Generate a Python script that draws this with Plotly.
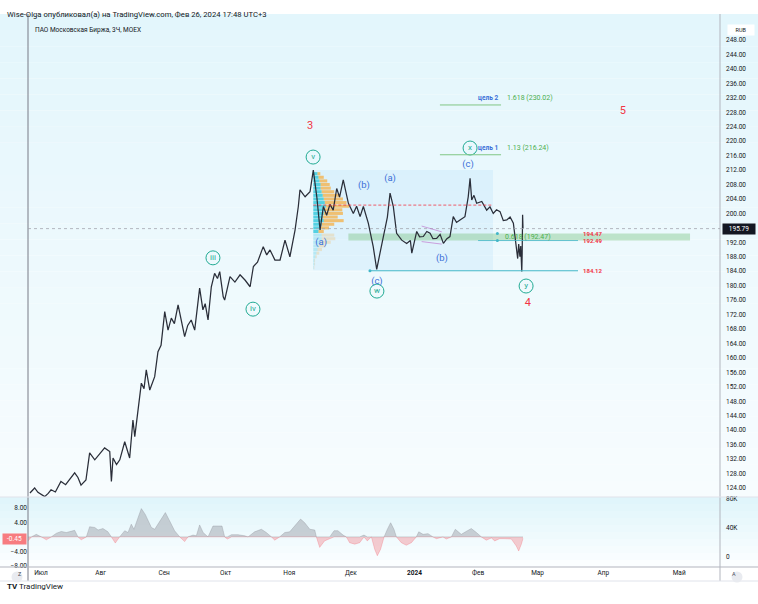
import plotly.graph_objects as go
import numpy as np

FONT = "Roboto"
W, H = 758, 604
ML, MR, MT, MB = 28, 38, 14, 37
PW, PH = W - ML - MR, H - MT - MB

def px(xp):  # pixel -> paper x (decor only)
    return (xp - ML) / PW

def py(yp):  # pixel -> paper y (decor only)
    return (H - MB - yp) / PH

# ---------------- DATA ----------------
# x = days since 2023-07-03 (first bar of July)
month_tick_day = [0, 29, 60, 90, 121, 151, 182, 213, 242, 274, 311]
month_tick_txt = ["Июл", "Авг", "Сен", "Окт", "Ноя", "Дек", "<b>2024</b>", "Фев", "Мар", "Апр", "Май"]

price_day = [-5.4, -3.1, -1.5, 1.8, 3.5, 4.9, 7.0, 9.7, 12, 14, 16.4, 18, 19.5, 21.9, 23.7, 26.2, 28.5, 31.0,
             33.5, 34.3, 35.1, 36.8, 38.4, 40.8, 43.2, 44.8, 45.7, 47.3, 48.9, 50.2, 51.3, 53.0, 55.4, 57.0,
             58.5, 60.3, 61.9, 63.5, 65.0, 66.8, 68.5, 70.0, 71.5, 73.2, 74.9, 77.3, 78.9, 80.0, 81.4, 83.0,
             84.6, 86.0, 87.1, 88.8, 89.5, 91.1, 92.1, 94.5, 97.0, 99.5, 101.9, 103.5, 105.5, 108.3, 110.0,
             111.6, 114.0, 116.5, 118.9, 121.3, 123.8, 125.4, 126.2, 128.7, 131.1, 132.7, 134.4, 136.0, 137.6,
             139.2, 140.8, 142.4, 144.1, 145.5, 147.3, 149.8, 152.2, 153.8, 155.5, 157.1, 159.5, 161.9, 163.6,
             165.2, 167.6, 168.8, 170.1, 171.7, 173.3, 175.8, 178.2, 180.0, 180.7, 181.4, 183.1, 184.5, 186.3,
             188.0, 189.6, 191.0, 192.8, 194.5, 196.1, 197.8, 199.3, 200.9, 202.5, 204.2, 206.6, 208.2, 209.1,
             209.9, 211.0, 212.3, 214.8, 217.2, 218.8, 220.4, 222.0, 223.7, 225.3, 227.0, 228.6, 230.2, 231.8,
             232.3, 232.8, 233.4, 233.8, 234.3, 234.5, 234.7, 234.9]
price_close = [122.6, 124.0, 122.8, 121.6, 122.5, 123.5, 122.9, 125.8, 124.9, 126.5, 128.2, 126.9, 124.8, 126.2,
               133.7, 131.8, 133.5, 135.1, 134.1, 125.8, 132.3, 130.5, 131.8, 136.8, 132.3, 142.8, 138.2, 145.6,
               153.0, 151.5, 156.7, 151.1, 154.8, 161.7, 163.5, 172.8, 167.7, 171.0, 169.5, 174.7, 170.0, 165.9,
               169.0, 170.5, 167.7, 179.3, 173.3, 175.0, 170.5, 179.7, 183.4, 182.0, 183.9, 176.9, 176.0, 180.2,
               182.5, 181.0, 183.0, 181.5, 179.7, 185.3, 186.5, 190.8, 188.5, 189.9, 187.1, 187.1, 192.6, 188.0,
               195.4, 201.9, 206.5, 204.6, 206.0, 212.0, 204.6, 195.4, 201.9, 199.5, 202.5, 200.9, 206.9, 204.5,
               209.3, 202.8, 200.0, 202.0, 199.1, 201.9, 197.3, 190.8, 184.5, 189.0, 196.3, 199.0, 205.6, 201.9,
               194.5, 192.6, 191.7, 192.5, 189.0, 190.8, 195.0, 193.5, 193.6, 195.0, 194.5, 193.0, 193.1, 194.2,
               191.7, 193.0, 193.6, 199.1, 197.5, 198.2, 199.1, 204.6, 209.7, 203.7, 205.0, 202.8, 203.3, 200.9,
               201.8, 200.0, 201.0, 200.5, 198.0, 198.2, 199.0, 197.3, 190.8, 187.5, 191.5, 188.0, 191.0, 183.9,
               189.0, 199.6, 195.79]
last_price = 195.79

osc_day = [-6.3, -4.7, -2.3, 0.2, 2.6, 5.0, 7.5, 9.9, 12.3, 14.0, 16.4, 18.0, 19.6, 22.1, 23.7, 26.2, 27.8, 30.2,
           32.6, 34.3, 36.2, 38.3, 40.8, 42.4, 44.0, 45.3, 47.3, 48.9, 50.8, 52.1, 53.8, 55.4, 57.8, 60.6, 62.7,
           65.1, 67.6, 70.0, 71.6, 74.1, 75.7, 77.3, 79.0, 81.4, 83.8, 86.3, 88.2, 89.5, 90.8, 92.8, 96.0, 99.3,
           100.9, 104.1, 107.4, 109.8, 112.3, 113.9, 116.3, 118.8, 121.2, 123.6, 126.5, 128.5, 131.0, 133.4, 134.2,
           135.8, 138.2, 140.7, 142.8, 144.7, 147.2, 148.8, 150.4, 152.9, 155.3, 157.4, 159.0, 161.0, 162.6, 163.9,
           165.5, 167.2, 168.8, 170.4, 172.0, 173.2, 175.6, 178.0, 180.5, 182.9, 184.1, 186.2, 188.6, 191.0, 192.7,
           195.9, 197.5, 200.0, 201.9, 204.8, 207.8, 209.7, 212.2, 214.6, 217.0, 219.5, 221.1, 223.5, 226.0, 229.2,
           231.6, 232.8, 234.1, 234.9]
osc_val = [-1.1, 0, 0.7, 0, -0.8, 0, 1.0, 1.5, 1.2, 1.4, 1.8, 0, -0.8, 0, 2.8, 2.6, 1.9, 2.3, 1.4, 0, -1.7, 0,
           1.7, 1.2, 3.5, 2.1, 5.3, 7.8, 6.2, 4.4, 2.6, 2.1, 4.4, 6.7, 4.4, 1.7, 0, -1.3, 0, 0.5, 0.3, 3.3, 1.2,
           0, 3.0, 3.0, 3.0, 0, -0.6, 0.6, 0.6, 0.3, 0, 1.4, 2.1, 1.2, 0, -0.9, 0, 1.2, 1.4, 3.0, 4.9, 3.9, 2.1,
           1.9, 0, -2.9, -1.1, -0.5, 1.7, 1.7, 0.5, 0, -1.6, -2.0, -1.6, 0.5, -1.1, 0, -3.4, -5.2, -3.4, 0, 2.1,
           3.9, 2.1, 0, -1.6, -2.3, -1.6, 0, 1.4, 0.7, 0.9, 0, -0.5, 0, -0.6, 0, 2.1, 0.7, 1.7, 2.3, 1.2, 0, -0.9,
           -0.3, -1.1, -0.5, -0.5, -0.6, -2.5, -3.9, -2.0, -0.45]
osc_last = -0.45

# volume profile (fixed range, Nov 14 -> Feb 1), rows of 1 RUB
vp_start_day, vp_end_day = 132.7, 220.3
vp_low, vp_high = 184.3, 212.0
vp_poc = 202.3
vp_price = [211, 210, 209, 208, 207, 206, 205, 204, 203, 202, 201, 200, 199, 198, 197, 196, 195, 194, 193,
            192, 191, 190, 189, 188, 187, 186, 185]
vp_up = [4, 5, 6, 7, 7, 8, 9, 10, 11, 12, 11, 10, 9, 10, 8, 7, 5, 8, 8, 7, 5, 4, 3, 2, 1, 1, 0.5]
vp_total = [6.7, 10, 13.3, 15.7, 16.7, 20, 25, 28.3, 31.7, 34.3, 27.7, 28.3, 23.3, 29, 20, 15, 10, 20, 21,
            16.7, 11.7, 8.3, 5.7, 3.3, 1.7, 1.7, 1]
vp_va_low = 194.5

# wave labels
circ_txt = ["v", "iii", "iv", "w", "x", "y"]
circ_day = [132.6, 83.8, 103.3, 163.7, 209.1, 236.4]
circ_price = [215.6, 187.7, 173.5, 178.5, 218.1, 179.9]
red_txt = ["3", "5", "4"]
red_day = [131.1, 283.6, 237.3]
red_price = [224.2, 228.3, 175.2]
blue_txt = ["(b)", "(a)", "(c)", "(a)", "(b)", "(c)"]
blue_day = [157.4, 170.1, 208.1, 136.5, 195.4, 163.7]
blue_price = [207.6, 209.5, 213.4, 191.8, 187.4, 181.0]

# fib extension targets
fib_names = ["цель 2", "цель 1"]
fib_ratio = ["1.618", "1.13"]
fib_level = [230.02, 216.24]
fib_day = [194.4, 224.2]
# retracement zone
zone_lo, zone_hi = 192.49, 194.47
zone_day = [149.8, 316.3]
zone_label = "0.618 (192.47)"
zone_label_day = 225.1
# support
support = 184.12
support_day = [160.3, 261.7]
lvl192_day = [213.0, 261.7]
label_day = 263.2
# triangle (b)
tri_day = [185.5, 195.3]
tri_up = [196.5, 194.9]
tri_dn = [192.2, 191.5]

# ---------------- FIGURE ----------------
RED = "#f23645"
TEAL = "#22ab94"
BLUE = "#3a6fd8"
GREEN = "#4caf50"
CYAN = "#42b6c8"
TXT = "#131722"

fig = go.Figure()

shapes = []
# background gradients
def grad(y0p, y1p, c0, c1, n):
    for i in range(n):
        t = i / (n - 1)
        c = tuple(int(round(c0[k] + (c1[k] - c0[k]) * t)) for k in range(3))
        a = y0p + (y1p - y0p) * i / n
        b = y0p + (y1p - y0p) * (i + 1) / n
        shapes.append(dict(type="rect", xref="paper", yref="paper", x0=px(0), x1=px(W), y0=py(a), y1=py(b),
                           fillcolor="rgb(%d,%d,%d)" % c, line_width=0, layer="below"))

grad(14, 497, (227, 246, 252), (247, 252, 254), 30)
grad(497, 567, (224, 245, 251), (251, 254, 255), 10)

# borders
shapes += [
    dict(type="line", xref="paper", yref="paper", x0=0, x1=0, y0=py(14), y1=py(581), line=dict(color="#787b86", width=1)),
    dict(type="line", xref="paper", yref="paper", x0=1, x1=1, y0=py(14), y1=py(581), line=dict(color="#b2b5be", width=1)),
    dict(type="line", xref="paper", yref="paper", x0=px(0), x1=px(W), y0=0, y1=0, line=dict(color="#b2b5be", width=1)),
    dict(type="line", xref="paper", yref="paper", x0=px(0), x1=px(W), y0=py(497), y1=py(497), line=dict(color="#e0e3eb", width=1)),
    dict(type="line", xref="paper", yref="paper", x0=px(0), x1=px(W), y0=py(581), y1=py(581), line=dict(color="#e0e3eb", width=1)),
]

# volume profile box
shapes.append(dict(type="rect", xref="x", yref="y", x0=vp_start_day, x1=vp_end_day, y0=vp_low, y1=vp_high,
                   fillcolor="rgba(33,150,243,0.07)", line_width=0, layer="below"))
# green retracement zone
shapes.append(dict(type="rect", xref="x", yref="y", x0=zone_day[0], x1=zone_day[1], y0=zone_lo, y1=zone_hi,
                   fillcolor="rgba(102,187,106,0.35)", line_width=0, layer="below"))
# last price dotted line
shapes.append(dict(type="line", xref="paper", yref="y", x0=0, x1=1, y0=last_price, y1=last_price,
                   line=dict(color="#a3a6af", width=0.8, dash="dot")))
# POC dashed
shapes.append(dict(type="line", xref="x", yref="y", x0=vp_start_day, x1=vp_end_day, y0=vp_poc, y1=vp_poc,
                   line=dict(color=RED, width=0.8, dash="3px,2px")))
# support
shapes.append(dict(type="line", xref="x", yref="y", x0=support_day[0], x1=support_day[1], y0=support, y1=support,
                   line=dict(color=CYAN, width=1)))
shapes.append(dict(type="line", xref="x", yref="y", x0=lvl192_day[0], x1=lvl192_day[1], y0=zone_lo, y1=zone_lo,
                   line=dict(color=CYAN, width=0.8)))
# fib target lines
for lv in fib_level:
    shapes.append(dict(type="line", xref="x", yref="y", x0=fib_day[0], x1=fib_day[1], y0=lv, y1=lv,
                       line=dict(color="#81c784", width=1)))
# triangle
shapes.append(dict(type="line", xref="x", yref="y", x0=tri_day[0], x1=tri_day[1], y0=tri_up[0], y1=tri_up[1],
                   line=dict(color="rgba(186,104,200,0.6)", width=1)))
shapes.append(dict(type="line", xref="x", yref="y", x0=tri_day[0], x1=tri_day[1], y0=tri_dn[0], y1=tri_dn[1],
                   line=dict(color="rgba(186,104,200,0.6)", width=1)))
# Z / A circles
for cx in (17, 737):
    shapes.append(dict(type="circle", xref="paper", yref="paper", x0=px(cx - 5.5), x1=px(cx + 5.5),
                       y0=py(577 + 5.5), y1=py(577 - 5.5), fillcolor="#e9ebf0", line_width=0))

# volume profile bars
vp_up_a = np.array(vp_up, dtype=float)
vp_tot_a = np.array(vp_total, dtype=float)
vp_dn_a = vp_tot_a - vp_up_a
scale = 17.5 / vp_tot_a.max()
vp_p = np.array(vp_price, dtype=float)
in_va = vp_p >= vp_va_low
up_col = np.where(in_va, "rgba(38,198,218,0.75)", "rgba(38,198,218,0.22)")
dn_col = np.where(in_va, "rgba(255,152,0,0.55)", "rgba(255,152,0,0.18)")
fig.add_trace(go.Bar(y=vp_p, x=vp_up_a * scale, base=[vp_start_day] * len(vp_p), orientation="h",
                     width=0.85, marker=dict(color=list(up_col), line_width=0), yaxis="y", xaxis="x",
                     showlegend=False, hoverinfo="skip"))
fig.add_trace(go.Bar(y=vp_p, x=vp_dn_a * scale, base=list(vp_start_day + vp_up_a * scale), orientation="h",
                     width=0.85, marker=dict(color=list(dn_col), line_width=0), yaxis="y", xaxis="x",
                     showlegend=False, hoverinfo="skip"))

# price
fig.add_trace(go.Scatter(x=price_day, y=price_close, mode="lines", line=dict(color="#2a2e39", width=1.25),
                         showlegend=False, hoverinfo="skip"))

# level dots
fig.add_trace(go.Scatter(x=[support_day[0], 222.4, 222.4], y=[support, zone_lo, zone_hi], mode="markers",
                         marker=dict(color=CYAN, size=3), showlegend=False, hoverinfo="skip"))

# wave labels
fig.add_trace(go.Scatter(x=circ_day, y=circ_price, mode="markers+text", text=circ_txt,
                         textposition="middle center",
                         textfont=dict(color=TEAL, size=8, family=FONT),
                         marker=dict(symbol="circle-open", size=14, color=TEAL, line=dict(width=1)),
                         showlegend=False, hoverinfo="skip"))
fig.add_trace(go.Scatter(x=red_day, y=red_price, mode="text", text=red_txt,
                         textfont=dict(color=RED, size=11, family=FONT), showlegend=False, hoverinfo="skip"))
fig.add_trace(go.Scatter(x=blue_day, y=blue_price, mode="text", text=blue_txt,
                         textfont=dict(color=BLUE, size=9.5, family=FONT), showlegend=False, hoverinfo="skip"))

# oscillator
ov = np.array(osc_val)
fig.add_trace(go.Scatter(x=osc_day, y=np.maximum(ov, 0), mode="lines", fill="tozeroy",
                         line=dict(color="rgba(140,143,152,0.6)", width=0.6),
                         fillcolor="rgba(150,153,162,0.45)", yaxis="y2", showlegend=False, hoverinfo="skip"))
fig.add_trace(go.Scatter(x=osc_day, y=np.minimum(ov, 0), mode="lines", fill="tozeroy",
                         line=dict(color="rgba(242,54,69,0.35)", width=0.6),
                         fillcolor="rgba(242,54,69,0.25)", yaxis="y2", showlegend=False, hoverinfo="skip"))
# volume axis holder
fig.add_trace(go.Scatter(x=[None], y=[None], yaxis="y3", showlegend=False, hoverinfo="skip"))

ann = []
tf = dict(family=FONT, size=6.5, color=TXT)
# fib labels
for nm, rt, lv in zip(fib_names, fib_ratio, fib_level):
    ann.append(dict(x=fib_day[1] - 0.5, y=lv, xref="x", yref="y", text="<b>%s</b>" % nm, showarrow=False,
                    xanchor="right", yanchor="bottom", yshift=1, font=dict(family=FONT, size=6.5, color=BLUE)))
    ann.append(dict(x=fib_day[1] + 1.9, y=lv, xref="x", yref="y", text="%s (%.2f)" % (rt, lv), showarrow=False,
                    xanchor="left", yanchor="bottom", yshift=1, font=dict(family=FONT, size=7, color=GREEN)))
ann.append(dict(x=zone_label_day, y=(zone_lo + zone_hi) / 2, xref="x", yref="y", text=zone_label,
                showarrow=False, xanchor="left", font=dict(family=FONT, size=7, color=GREEN)))
for lv in (zone_hi, zone_lo, support):
    ann.append(dict(x=label_day, y=lv, xref="x", yref="y", text="<b>%.2f</b>" % lv, showarrow=False,
                    xanchor="left", font=dict(family=FONT, size=6, color=RED)))
# axis price labels
ann.append(dict(x=1, y=last_price, xref="paper", yref="y", text="%.2f" % last_price, showarrow=False,
                xanchor="left", xshift=2, width=30, align="center", bgcolor=TXT, borderpad=1,
                font=dict(family=FONT, size=6.5, color="white")))
ann.append(dict(x=0, y=osc_last, xref="paper", yref="y2", text="%.2f" % osc_last, showarrow=False,
                xanchor="right", xshift=-1, width=21, align="center", bgcolor="#f77c80", borderpad=1,
                font=dict(family=FONT, size=6.5, color="white")))
ann.append(dict(x=1, y=py(24), xref="paper", yref="paper", text="RUB", showarrow=False, xanchor="left",
                xshift=7, width=22, align="center", bgcolor="white", borderpad=2,
                font=dict(family=FONT, size=5.5, color=TXT)))
# header
ann.append(dict(x=px(5), y=py(8), xref="paper", yref="paper", xanchor="left", showarrow=False,
                text="Wise-Olga опубликовал(а) на TradingView.com, Фев 26, 2024 17:48 UTC+3",
                font=dict(family=FONT, size=7.7, color=TXT)))
ann.append(dict(x=px(33), y=py(24), xref="paper", yref="paper", xanchor="left", showarrow=False,
                text="ПАО Московская Биржа, 3Ч, MOEX", font=dict(family=FONT, size=6.5, color=TXT)))
ann.append(dict(x=px(5), y=py(593), xref="paper", yref="paper", xanchor="left", showarrow=False,
                text="<b>TV</b> TradingView", font=dict(family=FONT, size=8, color=TXT)))
ann.append(dict(x=px(17), y=py(577.5), xref="paper", yref="paper", showarrow=False, text="Z", borderpad=0,
                font=dict(family=FONT, size=5.5, color="#50535e")))
ann.append(dict(x=px(737), y=py(577.5), xref="paper", yref="paper", showarrow=False, text="A", borderpad=0,
                font=dict(family=FONT, size=5.5, color="#50535e")))

price_ticks = [v for v in range(124, 249, 4) if v != 196]

fig.update_layout(
    template="none",
    width=W, height=H,
    margin=dict(l=ML, r=MR, t=MT, b=MB, pad=0),
    paper_bgcolor="white", plot_bgcolor="rgba(0,0,0,0)",
    barmode="overlay",
    font=dict(family=FONT, color=TXT),
    showlegend=False,
    shapes=shapes,
    annotations=ann,
    xaxis=dict(range=[-6.34, 330.9], tickvals=month_tick_day, ticktext=month_tick_txt, showgrid=False,
               zeroline=False, showline=False, ticks="", anchor="y2", automargin=False, tickfont=tf),
    yaxis=dict(domain=[py(497), 1], range=[121.5, 255.2], side="right", tickvals=price_ticks,
               tickformat=".2f", showgrid=False, zeroline=False, showline=False, ticks="", automargin=False,
               tickfont=tf, ticklabelstandoff=5),
    yaxis2=dict(domain=[0, py(497)], range=[-8.3, 11.0], side="left", tickvals=[-8, -4, 4, 8],
                tickformat=".2f", showgrid=False, zeroline=False, showline=False, ticks="", automargin=False,
                tickfont=tf),
    yaxis3=dict(overlaying="y2", range=[-13800, 82800], side="right", tickvals=[0, 40000, 80000],
                ticktext=["0", "40K", "80K"], showgrid=False, zeroline=False, showline=False, ticks="",
                automargin=False, tickfont=tf, ticklabelstandoff=5),
)

fig.write_html("out.html")
